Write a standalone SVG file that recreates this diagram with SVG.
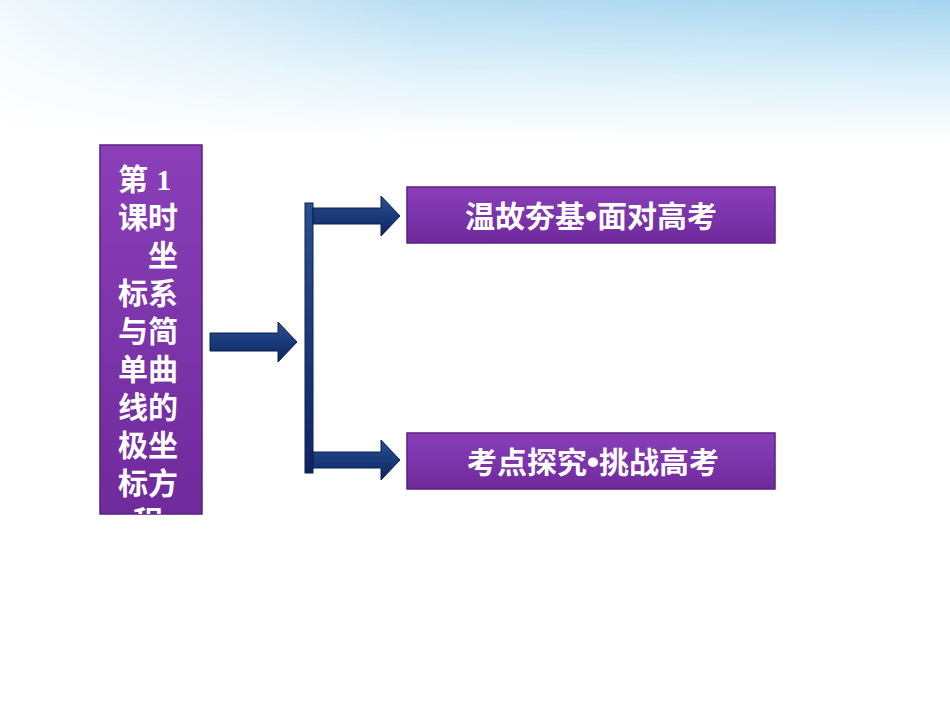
<svg xmlns="http://www.w3.org/2000/svg" width="950" height="713" viewBox="0 0 950 713">
<defs>
<linearGradient id="sky" x1="0" y1="0" x2="0" y2="1">
<stop offset="0" stop-color="#a6d4ef"/><stop offset="0.55" stop-color="#dcf0fa"/><stop offset="1" stop-color="#ffffff"/>
</linearGradient>
<linearGradient id="skyh" x1="0" y1="0" x2="1" y2="0">
<stop offset="0" stop-color="#fff" stop-opacity="0.85"/><stop offset="0.45" stop-color="#fff" stop-opacity="0.2"/><stop offset="1" stop-color="#fff" stop-opacity="0"/>
</linearGradient>
<linearGradient id="pur" x1="0" y1="0" x2="0" y2="1">
<stop offset="0" stop-color="#8a3fb8"/><stop offset="1" stop-color="#6f2a9c"/>
</linearGradient>
<linearGradient id="arr" x1="0" y1="0" x2="0" y2="1">
<stop offset="0" stop-color="#2a4f8f"/><stop offset="0.5" stop-color="#1a3a7a"/><stop offset="1" stop-color="#0f2560"/>
</linearGradient>
<clipPath id="clipL"><rect x="100" y="145" width="102" height="369"/></clipPath>
<style>
.box{fill:url(#pur);stroke:#5a2080;stroke-width:1.5}
.t{font-family:"Liberation Sans","Noto Sans CJK SC",sans-serif;font-weight:bold;fill:#fff}
.a{fill:url(#arr);stroke:#0c1f50;stroke-width:1}
</style>
</defs>
<rect width="950" height="713" fill="#fff"/>
<rect width="950" height="140" fill="url(#sky)"/>
<rect width="950" height="140" fill="url(#skyh)"/>
<g id="left">
<rect class="box" x="100" y="145" width="102" height="369"/>
<g clip-path="url(#clipL)" class="t" font-size="30">
<text x="118" y="190">第 <tspan font-family="Liberation Serif,serif">1</tspan></text>
<text x="118" y="228">课时</text>
<text x="148" y="266">坐</text>
<text x="118" y="304">标系</text>
<text x="118" y="342">与简</text>
<text x="118" y="380">单曲</text>
<text x="118" y="418">线的</text>
<text x="118" y="456">极坐</text>
<text x="118" y="494">标方</text>
<text x="133" y="532">程</text>
</g>
</g>
<g id="connectors">
<path class="a" d="M210 333 H278 V322 L297 342 L278 362 V351 H210 Z"/>
<rect class="a" x="305" y="203" width="8" height="270"/>
<path class="a" d="M313 208 H381 V196 L400 216 L381 236 V224 H313 Z"/>
<path class="a" d="M313 452 H381 V440 L400 460 L381 480 V468 H313 Z"/>
</g>
<g id="box1">
<rect class="box" x="407" y="187" width="368" height="56"/>
<text class="t" x="591" y="227" font-size="30" text-anchor="middle">温故夯基<tspan font-size="34">•</tspan>面对高考</text>
</g>
<g id="box2">
<rect class="box" x="407" y="433" width="368" height="56"/>
<text class="t" x="593" y="473" font-size="30" text-anchor="middle">考点探究<tspan font-size="34">•</tspan>挑战高考</text>
</g>
</svg>
